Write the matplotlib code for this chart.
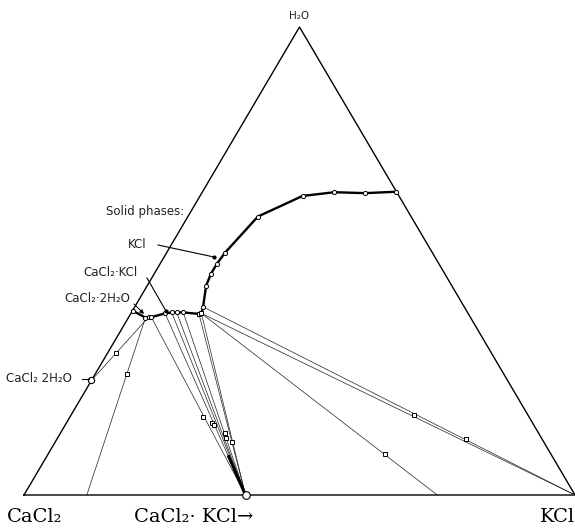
import matplotlib
matplotlib.use("Agg")
import matplotlib.pyplot as plt

# ---- data: compositions in weight % (KCl, H2O); CaCl2 = remainder ----
curve_K = [0.0, 3.1, 3.6, 4.1, 6.2, 7.3, 8.2, 9.4, 12.4, 12.8,
           12.4, 10.7, 10.3, 10.3, 10.6, 12.7, 18.6, 24.0, 29.6, 35.2]
curve_H = [39.4, 37.9, 38.0, 38.0, 38.8, 39.0, 39.0, 39.0, 38.7, 38.8,
           40.2, 44.7, 47.2, 49.4, 51.8, 59.5, 63.9, 64.7, 64.5, 64.8]
square_idx = [8, 9]

# solid phase compositions
dihydrate = (0.0, 24.5)      # CaCl2.2H2O
double_salt = (40.2, 0.0)    # CaCl2.KCl
kcl = (100.0, 0.0)

# tie lines: (curve index, end composition)
tie_lines = [
    (2, dihydrate),
    (1, (11.4, 0.0)),
    (3, double_salt), (4, double_salt), (5, double_salt), (6, double_salt),
    (7, double_salt), (8, double_salt), (9, double_salt),
    (9, (75.0, 0.0)),
    (9, kcl), (10, kcl),
]

# wet residues
res_K = [1.5, 5.7, 24.2, 26.4, 27.0, 29.9, 30.6, 32.0, 61.1, 62.3, 74.2]
res_H = [30.3, 25.9, 16.7, 15.3, 15.0, 13.2, 12.2, 11.4, 8.8, 17.1, 11.9]
cluster = [(32.8, 8.5), double_salt]


def tern(K, H):
    return (K + H / 2.0) / 100.0, H / 100.0


W, Hpx = 575, 528
X0, X1, YB, YT = 24, 575, 495, 27


def pix(px, py):
    return (px - X0) / (X1 - X0), (YB - py) / (YB - YT)


fig = plt.figure(figsize=(W / 100, Hpx / 100), dpi=100)
ax = fig.add_axes([X0 / W, (Hpx - YB) / Hpx, (X1 - X0) / W, (YB - YT) / Hpx])
ax.set_xlim(0, 1)
ax.set_ylim(0, 1)
ax.axis("off")

# triangle
tri = [tern(0, 0), tern(100, 0), tern(0, 100), tern(0, 0)]
ax.plot([p[0] for p in tri], [p[1] for p in tri], color="black", lw=1.0,
        clip_on=False, solid_joinstyle="miter")

# tie lines
for i, end in tie_lines:
    a = tern(curve_K[i], curve_H[i])
    b = tern(*end)
    ax.plot([a[0], b[0]], [a[1], b[1]], color="#222222", lw=0.5,
            clip_on=False)

# dense cluster of residues near the double salt
c0, c1 = tern(*cluster[0]), tern(*cluster[1])
ax.plot([c0[0], c1[0]], [c0[1], c1[1]], color="black", lw=2.2,
        solid_capstyle="butt")

# solubility curve
cx, cy = zip(*[tern(k, h) for k, h in zip(curve_K, curve_H)])
ax.plot(cx, cy, color="black", lw=1.7, clip_on=False)
circ = [j for j in range(len(cx)) if j not in square_idx]
ax.plot([cx[j] for j in circ], [cy[j] for j in circ], linestyle="none",
        marker="o", ms=3.0, mfc="white", mec="black", mew=0.7, clip_on=False)
ax.plot([cx[j] for j in square_idx], [cy[j] for j in square_idx],
        linestyle="none", marker="s", ms=3.0, mfc="white", mec="black",
        mew=0.7)

# wet residues
rx, ry = zip(*[tern(k, h) for k, h in zip(res_K, res_H)])
ax.plot(rx, ry, linestyle="none", marker="s", ms=3.0, mfc="white",
        mec="black", mew=0.7)

# solid points
for comp, size in [(dihydrate, 4.5), (double_salt, 5.5)]:
    p = tern(*comp)
    ax.plot(p[0], p[1], marker="o", ms=size, mfc="white", mec="black",
            mew=0.8, clip_on=False)

# ---- labels ----
sans = dict(family=["DejaVu Sans"], fontsize=8.5, color="#222222")
serif = dict(family=["DejaVu Serif", "DejaVu Sans"], fontsize=14,
             color="black")

ax.text(*pix(299, 16), "H₂O", ha="center", va="center", clip_on=False,
        **dict(sans, fontsize=7.5))
ax.text(*pix(106, 212), "Solid phases:", ha="left", va="center", **sans)
ax.text(*pix(128, 245), "KCl", ha="left", va="center", **sans)
ax.text(*pix(83, 272), "CaCl₂·KCl", ha="left", va="center", **sans)
ax.text(*pix(64, 299), "CaCl₂·2H₂O", ha="left", va="center", **sans)
ax.text(*pix(6, 378), "CaCl₂ 2H₂O", ha="left", va="center", **sans)


# leader lines
def leader(p0, p1, dot=True, arrow=False):
    a, b = pix(*p0), pix(*p1)
    if arrow:
        ax.annotate("", xy=b, xytext=a,
                    arrowprops=dict(arrowstyle="-|>", lw=0.7, color="black",
                                    mutation_scale=6, shrinkA=0, shrinkB=0))
    else:
        ax.plot([a[0], b[0]], [a[1], b[1]], color="black", lw=0.8,
                clip_on=False)
    if dot:
        ax.plot(b[0], b[1], marker="o", ms=2, color="black", clip_on=False)


leader((158, 245), (214, 257))
leader((147, 278), (166, 311))
leader((134, 304), (144, 314), dot=False, arrow=True)
leader((82, 379), (89, 379), dot=False)

ax.text(*pix(7, 517), "CaCl₂", ha="left", va="center", clip_on=False,
        **serif)
ax.text(*pix(134, 517), "CaCl₂· KCl→", ha="left", va="center",
        clip_on=False, **serif)
ax.text(*pix(540, 517), "KCl", ha="left", va="center", clip_on=False,
        **serif)

fig.savefig("out.png", dpi=100)
